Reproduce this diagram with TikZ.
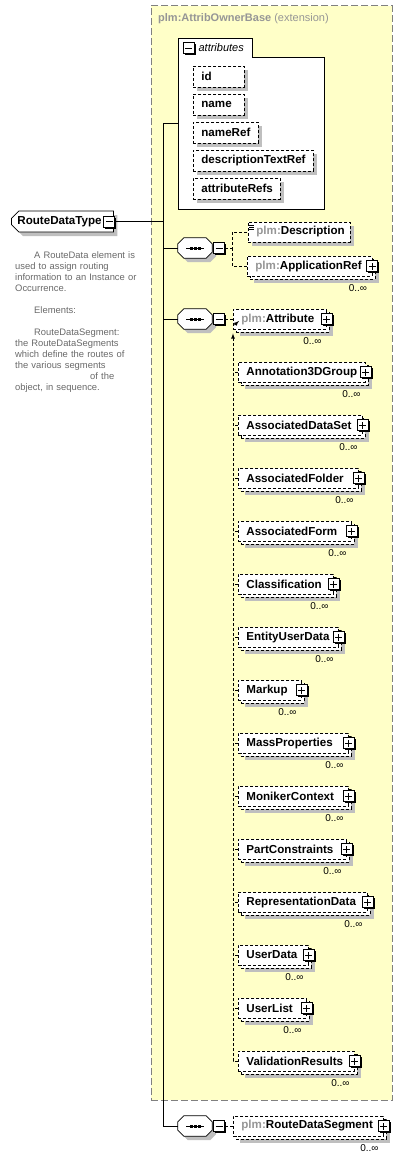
\documentclass[tikz,border=0pt]{standalone}
\usepackage{fontspec}
\setmainfont{Liberation Sans}
\usetikzlibrary{arrows,shapes,shadows,positioning}
\definecolor{extfill}{RGB}{255,255,200}
\definecolor{extline}{RGB}{128,128,128}
\definecolor{nsgray}{RGB}{150,150,150}
\definecolor{docgray}{RGB}{105,105,105}
\newcommand{\plm}{{\color{nsgray}plm:}}
\tikzstyle{ext box}=[draw=extline, fill=extfill, line width=0.9pt, dash pattern=on 7pt off 3pt]
\tikzstyle{link}=[line width=0.8pt, dash pattern=on 3pt off 2pt]
\tikzstyle{elem}=[rectangle, draw, fill=white, minimum height=20pt
,inner xsep=8pt, inner ysep=0pt
,align=left, anchor=west
,line width=0.8pt, dash pattern=on 3pt off 2pt
,font=\bfseries\fontsize{11.6}{13}\selectfont
]
\tikzstyle{single element}=[elem
,drop shadow={shadow xshift=4pt, shadow yshift=-4pt, fill=black!25, opacity=1, draw=none}]
\tikzstyle{multi element}=[elem
,drop shadow={shadow xshift=7pt, shadow yshift=-7pt, fill=black!25, opacity=1, draw=none}
,copy shadow={shadow xshift=3pt, shadow yshift=-3pt, draw=black, fill=white, opacity=1, dash pattern=on 3pt off 2pt}]
\tikzstyle{toggle}=[rectangle, draw, fill=white, minimum size=11pt, inner sep=0pt, line width=0.8pt
,drop shadow={shadow xshift=1.5pt, shadow yshift=-1.5pt, fill=black, opacity=1, draw=none}]
\tikzstyle{minus box}=[toggle, path picture={
    \draw[line width=0.8pt] ([xshift=2pt]path picture bounding box.west) -- ([xshift=-2pt]path picture bounding box.east);}]
\tikzstyle{plus box}=[toggle, path picture={
    \draw[line width=0.8pt] ([xshift=2pt]path picture bounding box.west) -- ([xshift=-2pt]path picture bounding box.east);
    \draw[line width=0.8pt] ([yshift=2pt]path picture bounding box.south) -- ([yshift=-2pt]path picture bounding box.north);}]
\tikzstyle{seq node}=[rectangle, minimum width=34pt, minimum height=20pt, inner sep=0pt]
\tikzstyle{seq outline}=[draw, fill=white, line width=0.8pt
,drop shadow={shadow xshift=4pt, shadow yshift=-4pt, fill=black!25, opacity=1, draw=none}]
\tikzstyle{card}=[inner sep=0pt, font=\fontsize{10}{12}\selectfont]

\begin{document}
\begin{tikzpicture}[x=1pt, y=-1pt]
    \useasboundingbox (0,0) rectangle (414,1161);
    % Extension frame
    \node[ext box, minimum width=241.5pt, minimum height=1094.5pt, anchor=north west, inner sep=0pt] (ext) at (150.5,5.5) {};
    \node[anchor=north west, inner sep=0pt, text=nsgray, font=\fontsize{11}{13}\selectfont] (ext-title)
        at ([xshift=7.5pt,yshift=-8pt]ext.north west) {\textbf{plm:AttribOwnerBase} (extension)};

    % Attribute group
    \node[minimum width=146pt, minimum height=171pt, anchor=north west, inner sep=0pt] (attributes) at (178,38) {};
    \draw[fill=white, line width=0.8pt] (attributes.north west) -- ++(74,0) -- ++(0,19) -| (attributes.south east) -- (attributes.south west) -- cycle;
    \node[minus box] (attributes-tg) at (188.5,48) {};
    \node[right=4pt of attributes-tg, inner sep=0pt, font=\itshape\fontsize{11}{13}\selectfont] (attributes-lbl) {attributes};
    \foreach \y/\w/\name in {76.5/51/id, 104.5/51/name, 132.5/65/nameRef, 160.5/120/descriptionTextRef, 188.5/87/attributeRefs}
    {
        \pgfmathsetmacro\tw{\w-16}
        \node[single element, minimum height=21pt, text width=\tw pt] (\name) at (193,\y) {\name};
    }

    % The type itself
    \node[single element, solid, chamfered rectangle, chamfered rectangle corners={north west,south west}, chamfered rectangle xsep=4pt
        ,minimum height=21pt, inner xsep=2pt, text width=90pt] (RouteDataType) at (11,221.5) {RouteDataType};
    \node[minus box] (RouteDataType-tg) at ([xshift=-4.5pt]RouteDataType.east) {};
    \node[anchor=north west, inner sep=0pt, text width=140pt, align=left, text=docgray, font=\fontsize{9.4}{11}\selectfont] (RouteDataType-doc) at (15,251)
        {\hspace*{19pt}A RouteData element is\\
        used to assign routing\\
        information to an Instance or\\
        Occurrence.\\[11pt]
        \hspace*{19pt}Elements:\\[11pt]
        \hspace*{19pt}RouteDataSegment:\\
        the RouteDataSegments\\
        which define the routes of\\
        the various segments\\
        \hspace*{75pt}of the\\
        object, in sequence.};

    % Sequences
    \foreach \y/\name in {248/seqHeader, 319/seqAttributes, 1126/seqSegments}
    {
        \node[seq node] (\name) at (195,\y) {};
        \draw[seq outline] ([xshift=6pt]\name.north west) -- ([xshift=-6pt]\name.north east) -- ([yshift=-6pt]\name.north east)
            -- ([yshift=6pt]\name.south east) -- ([xshift=-6pt]\name.south east) -- ([xshift=6pt]\name.south west)
            -- ([yshift=6pt]\name.south west) -- ([yshift=-6pt]\name.north west) -- cycle;
        \draw[line width=0.8pt] ([xshift=-9pt]\name.center) -- ([xshift=9pt]\name.center);
        \foreach \dx in {-4,0,4}
            \fill[black] ([xshift=\dx pt]\name.center) +(-1.5pt,-1.5pt) rectangle +(1.5pt,1.5pt);
        \node[minus box, right=1pt of \name] (\name-tg) {};
    }

    % Trunk line
    \coordinate (bus) at (163,0);
    \draw[line width=0.8pt] (RouteDataType-tg.east) -- (bus |- RouteDataType-tg.east);
    \draw[line width=0.8pt] (attributes.west) -- (bus |- attributes.west) -- (bus |- seqSegments.west) -- (seqSegments.west);
    \foreach \name in {seqHeader, seqAttributes}
        \draw[line width=0.8pt] (\name.west) -- (bus |- \name.west);

    % First sequence
    \node[single element, text width=86pt] (Description) at (248,232) {\plm Description};
    \foreach \dy in {3.5,5.5,7.5}
        \draw[line width=0.6pt] ([xshift=1pt,yshift=-\dy pt]Description.north west) -- ++(5,0);
    \node[multi element, text width=108.5pt] (ApplicationRef) at (247,266) {\plm ApplicationRef};
    \node[plus box] (ApplicationRef-pl) at (ApplicationRef.east) {};
    \node[card, below left=8pt and 5pt of ApplicationRef.south east] (ApplicationRef-card) {0..∞};
    \coordinate (fork) at (232,248);
    \draw[link] (seqHeader-tg.east) -- (fork) |- (Description.west);
    \draw[link] (fork) |- (ApplicationRef.west);

    % Second sequence with the substitution group
    \node[multi element, text width=77pt] (Attribute) at (233,319) {\plm Attribute};
    \node[plus box] (Attribute-pl) at (Attribute.east) {};
    \node[card, below left=8pt and 5pt of Attribute.south east] (Attribute-card) {0..∞};
    \draw[link] (seqAttributes-tg.east) -- (Attribute.west);
    \foreach \name/\w [count=\i from 0] in {Annotation3DGroup/132, AssociatedDataSet/129, AssociatedFolder/125, AssociatedForm/118,
        Classification/100, EntityUserData/105, Markup/68, MassProperties/115, MonikerContext/115, PartConstraints/113,
        RepresentationData/134, UserData/75, UserList/73, ValidationResults/121}
    {
        \pgfmathsetmacro\tw{\w-21}
        \node[multi element, text width=\tw pt] (\name) at (238,372+53*\i) {\name};
        \node[plus box] (\name-pl) at (\name.east) {};
        \node[card, below left=8pt and 5pt of \name.south east] (\name-card) {0..∞};
        \draw[link] (\name.west) -- (Attribute.west |- \name.west);
    }
    \draw[link, -latex] (ValidationResults.west) -| ([yshift=-4pt]Attribute.south west);
    \draw[line width=0.8pt, -latex] ([xshift=1.5pt,yshift=-6pt]Attribute.west) -- ([xshift=6pt,yshift=-2pt]Attribute.west);

    % Third sequence
    \node[multi element, text width=134pt] (RouteDataSegment) at (233,1126) {\plm RouteDataSegment};
    \node[plus box] (RouteDataSegment-pl) at (RouteDataSegment.east) {};
    \node[card, below left=8pt and 5pt of RouteDataSegment.south east] (RouteDataSegment-card) {0..∞};
    \draw[link] (seqSegments-tg.east) -- (RouteDataSegment.west);
\end{tikzpicture}
\end{document}
